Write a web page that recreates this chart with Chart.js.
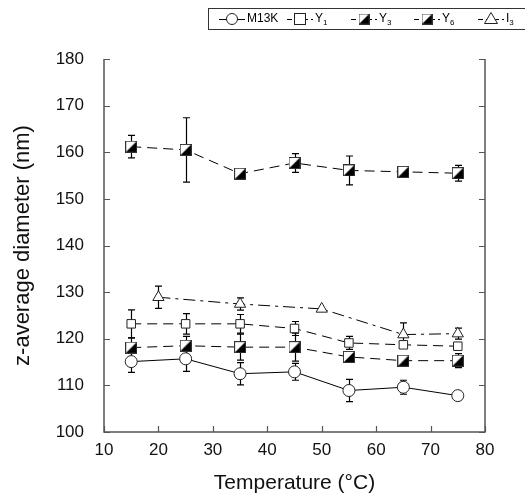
<!DOCTYPE html>
<html>
<head>
<meta charset="utf-8">
<script src="https://cdn.jsdelivr.net/npm/chart.js@4.4.1/dist/chart.umd.min.js"></script>
<style>
  html, body { margin: 0; padding: 0; background: #fff; }
  #wrap { width: 525px; height: 498px; }
</style>
</head>
<body>
<div id="wrap"><canvas id="chart" width="525" height="498"></canvas></div>
<script>
// temperatures (°C)
const temps = [15, 25, 35, 45, 55, 65, 75];
const tempsI3 = [20, 35, 50, 65, 75];

// z-average diameter (nm) and error bars
const m13k = [115.1, 115.7, 112.5, 112.9, 108.9, 109.6, 107.8];
const m13kErr = [2.3, 2.7, 2.4, 1.8, 2.4, 1.5, 0];
const y1 = [123.2, 123.2, 123.2, 122.2, 119.1, 118.7, 118.4];
const y1Err = [3.0, 2.2, 2.0, 1.5, 1.4, 0, 0];
const y3 = [118.1, 118.5, 118.2, 118.2, 116.1, 115.3, 115.3];
const y3Err = [2.1, 2.0, 2.8, 3.0, 0.8, 0, 1.5];
const y6 = [161.2, 160.5, 155.4, 157.7, 156.1, 155.8, 155.5];
const y6Err = [2.4, 6.9, 0.5, 2.0, 3.1, 0, 1.7];
const i3 = [128.9, 127.45, 126.4, 120.9, 121.1];
const i3Err = [2.4, 1.3, 0, 2.5, 1.2];

const xTicks = [10, 20, 30, 40, 50, 60, 70, 80];
const yTicks = [100, 110, 120, 130, 140, 150, 160, 170, 180];

const FONT = '"Liberation Sans", Arial, sans-serif';
const AXIS_COLOR = '#555';

function pairs(xs, ys) {
    return xs.map((x, i) => ({ x: x, y: ys[i] }));
}

// half black / half white square marker
function halfSquare(size) {
    const c = document.createElement('canvas');
    c.width = size; c.height = size;
    const g = c.getContext('2d');
    g.fillStyle = '#fff';
    g.fillRect(0, 0, size, size);
    g.fillStyle = '#000';
    g.beginPath();
    g.moveTo(size - 1, 1);
    g.lineTo(size - 1, size - 1);
    g.lineTo(1, size - 1);
    g.closePath();
    g.fill();
    g.strokeStyle = '#333';
    g.lineWidth = 1;
    g.strokeRect(0.5, 0.5, size - 1, size - 1);
    return c;
}
const halfSq = halfSquare(12);

const series = [
    { label: 'M13K', sub: '', xs: temps, ys: m13k, err: m13kErr, style: 'circle', dash: [], radius: 6 },
    { label: 'Y', sub: '1', xs: temps, ys: y1, err: y1Err, style: 'rect', dash: [10, 6], radius: 6 },
    { label: 'Y', sub: '3', xs: temps, ys: y3, err: y3Err, style: halfSq, dash: [10, 6], radius: 6 },
    { label: 'Y', sub: '6', xs: temps, ys: y6, err: y6Err, style: halfSq, dash: [10, 6], radius: 6 },
    { label: 'I', sub: '3', xs: tempsI3, ys: i3, err: i3Err, style: 'triangle', dash: [12, 5, 3, 5], radius: 6.5 }
];

const datasets = series.map(s => ({
    label: s.label + s.sub,
    data: pairs(s.xs, s.ys),
    errors: s.err,
    borderColor: '#000',
    borderWidth: 1,
    borderDash: s.dash,
    backgroundColor: '#fff',
    pointStyle: s.style,
    pointRadius: s.radius,
    pointBackgroundColor: '#fff',
    pointBorderColor: '#222',
    pointBorderWidth: 1,
    tension: 0,
    fill: false
}));

// vertical error bars with caps, drawn under the markers
const errorBars = {
    id: 'errorBars',
    beforeDatasetsDraw(chart) {
        const ctx = chart.ctx;
        const xs = chart.scales.x, ys = chart.scales.y;
        ctx.save();
        ctx.strokeStyle = '#000';
        ctx.lineWidth = 1.2;
        chart.data.datasets.forEach(ds => {
            ds.data.forEach((p, i) => {
                const e = ds.errors[i];
                if (!e) return;
                const px = Math.round(xs.getPixelForValue(p.x)) + 0.5;
                const top = ys.getPixelForValue(p.y + e);
                const bot = ys.getPixelForValue(p.y - e);
                ctx.beginPath();
                ctx.moveTo(px, top); ctx.lineTo(px, bot);
                ctx.moveTo(px - 3.5, top); ctx.lineTo(px + 3.5, top);
                ctx.moveTo(px - 3.5, bot); ctx.lineTo(px + 3.5, bot);
                ctx.stroke();
            });
        });
        ctx.restore();
    }
};

// axis lines with inward ticks (left, bottom, right)
const axesBox = {
    id: 'axesBox',
    afterDraw(chart) {
        const ctx = chart.ctx;
        const a = chart.chartArea;
        const xs = chart.scales.x, ys = chart.scales.y;
        ctx.save();
        ctx.strokeStyle = AXIS_COLOR;
        ctx.lineWidth = 1.5;
        ctx.beginPath();
        ctx.moveTo(a.left, a.top); ctx.lineTo(a.left, a.bottom);
        ctx.lineTo(a.right, a.bottom); ctx.lineTo(a.right, a.top);
        ctx.stroke();
        ctx.lineWidth = 1.2;
        ctx.beginPath();
        yTicks.forEach(v => {
            const py = Math.round(ys.getPixelForValue(v)) + 0.5;
            ctx.moveTo(a.left, py); ctx.lineTo(a.left + 6, py);
            ctx.moveTo(a.right, py); ctx.lineTo(a.right - 6, py);
        });
        xTicks.forEach(v => {
            const px = Math.round(xs.getPixelForValue(v)) + 0.5;
            ctx.moveTo(px, a.bottom); ctx.lineTo(px, a.bottom - 6);
        });
        ctx.stroke();
        ctx.restore();
    }
};

// boxed legend at the top right, symbol with line through it
const boxLegend = {
    id: 'boxLegend',
    afterDraw(chart) {
        const ctx = chart.ctx;
        const centers = [232, 300, 364, 427, 491];
        ctx.save();
        ctx.strokeStyle = '#333';
        ctx.lineWidth = 1;
        ctx.strokeRect(208.5, 8.5, 330, 21);
        const cy = 19;
        ctx.textBaseline = 'middle';
        series.forEach((s, k) => {
            const mx = centers[k];
            ctx.strokeStyle = '#000';
            ctx.setLineDash(s.dash.length ? [5, 3] : []);
            ctx.beginPath();
            ctx.moveTo(mx - 13, cy + 0.5); ctx.lineTo(mx + 13, cy + 0.5);
            ctx.stroke();
            ctx.setLineDash([]);
            ctx.fillStyle = '#fff';
            ctx.strokeStyle = '#222';
            if (s.style === 'circle') {
                ctx.beginPath(); ctx.arc(mx, cy, 5.5, 0, Math.PI * 2); ctx.fill(); ctx.stroke();
            } else if (s.style === 'rect') {
                ctx.fillRect(mx - 5.5, cy - 5.5, 11, 11); ctx.strokeRect(mx - 5.5, cy - 5.5, 11, 11);
            } else if (s.style === 'triangle') {
                ctx.beginPath();
                ctx.moveTo(mx, cy - 6.5); ctx.lineTo(mx + 6.5, cy + 4.5); ctx.lineTo(mx - 6.5, cy + 4.5);
                ctx.closePath(); ctx.fill(); ctx.stroke();
            } else {
                ctx.drawImage(s.style, mx - 5.5, cy - 5.5, 11, 11);
            }
            const tx = mx + 15;
            ctx.fillStyle = '#000';
            ctx.font = '12px ' + FONT;
            ctx.fillText(s.label, tx, cy);
            if (s.sub) {
                const w = ctx.measureText(s.label).width;
                ctx.font = '8px ' + FONT;
                ctx.fillText(s.sub, tx + w, cy + 4);
            }
        });
        ctx.restore();
    }
};

new Chart(document.getElementById('chart'), {
    type: 'line',
    data: { datasets: datasets },
    plugins: [errorBars, axesBox, boxLegend],
    options: {
        responsive: false,
        animation: false,
        layout: { padding: { top: 59, right: 40, left: 0, bottom: 0 } },
        plugins: { legend: { display: false }, tooltip: { enabled: false } },
        scales: {
            x: {
                type: 'linear',
                min: 10, max: 80,
                afterBuildTicks: axis => { axis.ticks = xTicks.map(v => ({ value: v })); },
                afterFit: axis => { axis.height = 66; },
                grid: { display: false },
                border: { display: false },
                ticks: { color: '#111', font: { family: FONT, size: 17 }, padding: 0, maxRotation: 0 },
                title: {
                    display: true,
                    text: 'Temperature (°C)',
                    color: '#111',
                    font: { family: FONT, size: 21 },
                    padding: { top: 2, bottom: 2 }
                }
            },
            y: {
                min: 100, max: 180,
                afterBuildTicks: axis => { axis.ticks = yTicks.map(v => ({ value: v })); },
                afterFit: axis => { axis.width = 104; },
                grid: { display: false },
                border: { display: false },
                ticks: { color: '#111', font: { family: FONT, size: 17 }, padding: 12 },
                title: {
                    display: true,
                    text: 'z-average diameter (nm)',
                    color: '#111',
                    font: { family: FONT, size: 22 },
                    padding: { top: 10, bottom: 0 }
                }
            }
        }
    }
});
</script>
</body>
</html>
